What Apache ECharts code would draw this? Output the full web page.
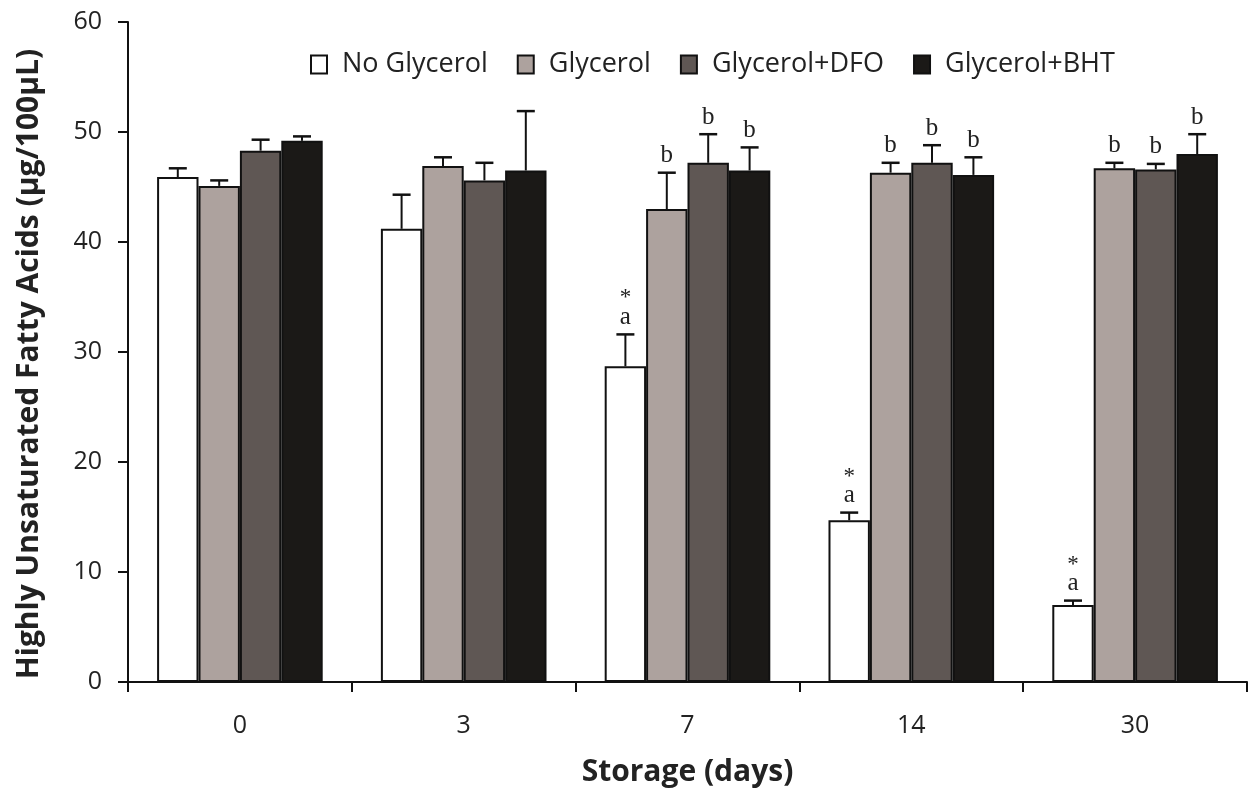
<!DOCTYPE html>
<html>
<head>
<meta charset="utf-8">
<script src="https://cdn.jsdelivr.net/npm/echarts@6/dist/echarts.min.js"></script>
<style>html,body{margin:0;padding:0;background:#fff}#c{width:1250px;height:795px}</style>
</head>
<body>
<div id="c"></div>
<script>
const categories = ['0', '3', '7', '14', '30'];
const seriesNames = ['No Glycerol', 'Glycerol', 'Glycerol+DFO', 'Glycerol+BHT'];
const noGlycerol   = [45.9, 41.2, 28.7, 14.7, 7.0];
const glycerol     = [45.1, 46.9, 43.0, 46.3, 46.7];
const glycerolDFO  = [48.3, 45.6, 47.2, 47.2, 46.6];
const glycerolBHT  = [49.2, 46.5, 46.5, 46.1, 48.0];
const errNoGlycerol  = [0.8, 3.1, 2.9, 0.7, 0.4];
const errGlycerol    = [0.5, 0.8, 3.3, 0.9, 0.5];
const errGlycerolDFO = [1.0, 1.6, 2.6, 1.6, 0.5];
const errGlycerolBHT = [0.4, 5.4, 2.1, 1.6, 1.8];
const sigNoGlycerol  = ['', '', 'a', 'a', 'a'];
const starNoGlycerol = ['', '', '*', '*', '*'];
const sigGlycerol    = ['', '', 'b', 'b', 'b'];
const sigGlycerolDFO = ['', '', 'b', 'b', 'b'];
const sigGlycerolBHT = ['', '', 'b', 'b', 'b'];
const yTicks = [0, 10, 20, 30, 40, 50, 60];

const values = [noGlycerol, glycerol, glycerolDFO, glycerolBHT];
const errors = [errNoGlycerol, errGlycerol, errGlycerolDFO, errGlycerolBHT];
const sigs = [sigNoGlycerol, sigGlycerol, sigGlycerolDFO, sigGlycerolBHT];
const colors = ['#ffffff', '#ada29e', '#5f5754', '#1b1917'];
const FONT = '"Open Sans", Lato, sans-serif';

const errData = [];
const errLabels = [];
const errStars = [];
for (let s = 0; s < 4; s++) {
  for (let c = 0; c < categories.length; c++) {
    errData.push([c, s, values[s][c], errors[s][c]]);
    errLabels.push(sigs[s][c]);
    errStars.push(s === 0 ? starNoGlycerol[c] : '');
  }
}

const GAP = 0.26;
const chart = echarts.init(document.getElementById('c'));
const barSeries = seriesNames.map((name, i) => ({
  name: name,
  type: 'bar',
  data: values[i],
  barGap: '0%',
  barCategoryGap: (GAP * 100) + '%',
  itemStyle: { color: colors[i], borderColor: '#111', borderWidth: 2 },
  emphasis: { disabled: true },
  z: 2
}));

const errSeries = {
  type: 'custom',
  data: errData,
  z: 5,
  silent: true,
  renderItem: function (params, api) {
    const c = api.value(0), s = api.value(1), v = api.value(2), e = api.value(3);
    const base = api.coord([c, v]);
    const top = api.coord([c, v + e]);
    const cw = api.size([1, 0])[0];
    const bw = cw * (1 - GAP) / 4;
    const x = base[0] + (s - 1.5) * bw;
    const children = [
      { type: 'line', shape: { x1: x, y1: base[1], x2: x, y2: top[1] }, style: { stroke: '#111', lineWidth: 2 } },
      { type: 'line', shape: { x1: x - 9, y1: top[1], x2: x + 9, y2: top[1] }, style: { stroke: '#111', lineWidth: 2.5 } }
    ];
    const lab = errLabels[params.dataIndex];
    if (lab) {
      children.push({ type: 'text', style: { text: lab, x: x, y: top[1] - 17, align: 'center', verticalAlign: 'middle', font: '25px "Liberation Serif", "DejaVu Serif", serif', fill: '#222' } });
    }
    const st = errStars[params.dataIndex];
    if (st) {
      children.push({ type: 'text', style: { text: st, x: x, y: top[1] - 36, align: 'center', verticalAlign: 'middle', font: '23px "Liberation Serif", "DejaVu Serif", serif', fill: '#222' } });
    }
    return { type: 'group', children: children };
  }
};

chart.setOption({
  animation: false,
  backgroundColor: '#ffffff',
  textStyle: { fontFamily: FONT },
  legend: {
    data: seriesNames.map(n => ({ name: n, icon: 'rect' })),
    left: 305,
    top: 46,
    itemWidth: 16,
    itemHeight: 18,
    itemGap: 29,
    textStyle: { fontSize: 27, color: '#222', fontFamily: FONT, padding: [0, 0, 0, 10] },
    selectedMode: false
  },
  grid: { left: 128, right: 3, top: 22, bottom: 113, outerBoundsMode: 'none', containLabel: false },
  xAxis: {
    type: 'category',
    data: categories,
    name: 'Storage (days)',
    nameLocation: 'middle',
    nameGap: 75,
    nameTextStyle: { fontSize: 30, fontWeight: 'bold', color: '#222', fontFamily: FONT },
    axisLine: { lineStyle: { color: '#111', width: 2 } },
    axisTick: { show: true, alignWithLabel: false, length: 10, lineStyle: { color: '#111', width: 2 } },
    axisLabel: { fontSize: 25, color: '#222', margin: 31, fontFamily: FONT }
  },
  yAxis: {
    type: 'value',
    min: yTicks[0],
    max: yTicks[yTicks.length - 1],
    interval: yTicks[1] - yTicks[0],
    name: 'Highly Unsaturated Fatty Acids (μg/100μL)',
    nameLocation: 'middle',
    nameGap: 84,
    nameTextStyle: { fontSize: 30, fontWeight: 'bold', color: '#222', fontFamily: FONT, padding: [0, 24, 0, 0] },
    axisLine: { show: true, lineStyle: { color: '#111', width: 2 } },
    axisTick: { show: true, length: 10, lineStyle: { color: '#111', width: 2 } },
    axisLabel: { fontSize: 25, color: '#222', margin: 26, fontFamily: FONT },
    splitLine: { show: false }
  },
  series: barSeries.concat([errSeries])
});
</script>
</body>
</html>
